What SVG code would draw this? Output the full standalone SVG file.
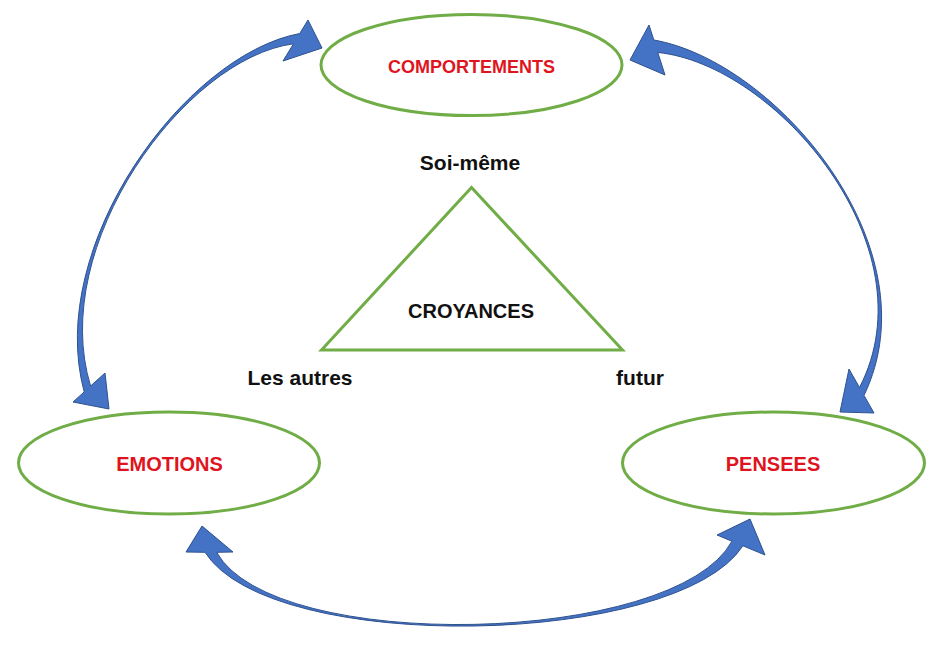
<svg xmlns="http://www.w3.org/2000/svg" width="942" height="650" viewBox="0 0 942 650">
<style>
.node{fill:#ffffff;stroke:#70AD47;stroke-width:3}
.arrow{fill:#4472C4;stroke:#2F528F;stroke-width:1;stroke-linejoin:round}
.red{font-family:"Liberation Sans",Arial,sans-serif;font-weight:bold;fill:#E0141E;text-anchor:middle}
.blk{font-family:"Liberation Sans",Arial,sans-serif;font-weight:bold;fill:#111111;text-anchor:middle}
</style>
<rect width="942" height="650" fill="#ffffff"/>
<g id="croyances">
<polygon class="node" points="471.5,187.5 321.5,350 622.5,350" fill="none" style="fill:none"/>
<text class="blk" x="471" y="318" font-size="20">CROYANCES</text>
<text class="blk" x="470" y="170" font-size="21">Soi-même</text>
<text class="blk" x="300" y="385" font-size="21">Les autres</text>
<text class="blk" x="640" y="385" font-size="21">futur</text>
</g>
<g id="comportements">
<ellipse class="node" cx="471.5" cy="65" rx="150.5" ry="50.5"/>
<text class="red" x="471.5" y="73" font-size="18">COMPORTEMENTS</text>
</g>
<g id="emotions">
<ellipse class="node" cx="169" cy="463" rx="150.5" ry="51"/>
<text class="red" x="169.5" y="471" font-size="20">EMOTIONS</text>
</g>
<g id="pensees">
<ellipse class="node" cx="773.5" cy="463" rx="151" ry="51"/>
<text class="red" x="773" y="471" font-size="20">PENSEES</text>
</g>
<g id="connectors">
<path class="arrow" d="M322,48 L308,20 L299.75,33.5 C184.8,55 44.6,246.4 84.2,391.9 L73,402 L109,409 L105,373 L90.6,386 C47.4,245.6 185.2,58 293.5,43.8 L283,61 Z"/>
<path class="arrow" d="M630,60 L649,25 L653.8,40 C776,61.3 935,248.2 864,395.4 L874,413 L840,412 L849,369 L859.5,387.5 C932.4,246.8 775.6,64.3 657.8,52.5 L665,75 Z"/>
<path class="arrow" d="M202,526 L186,552 L205,552.3 C271,655.9 677.5,647.4 742.9,545.8 L765,555 L750,519 L717,535 L731.9,541.2 C675.1,646 273.4,654.5 216.7,552.3 L233,552 Z"/>
</g>
</svg>
